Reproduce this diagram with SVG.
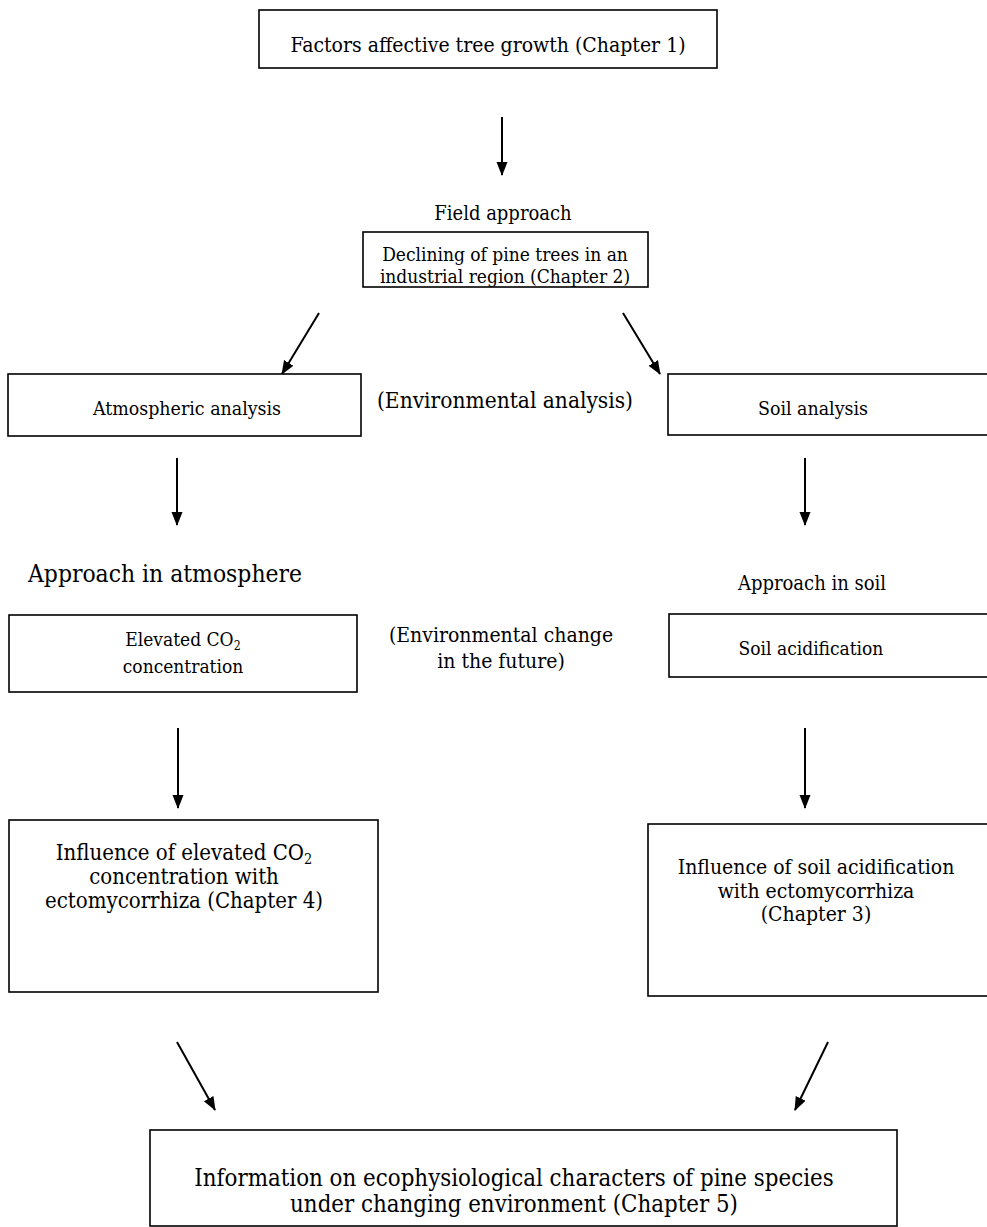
<svg xmlns="http://www.w3.org/2000/svg" width="987" height="1227" viewBox="0 0 987 1227">
<style>
.box{fill:#fff;stroke:#000;stroke-width:1.6}
.t{font-family:"DejaVu Serif Condensed","DejaVu Serif",serif;font-stretch:condensed;fill:#000;text-anchor:middle}
.sub{font-size:0.65em}
.c{stroke:#000;stroke-width:2;fill:none;marker-end:url(#ah)}
</style>
<defs>
<marker id="ah" markerUnits="userSpaceOnUse" markerWidth="14" markerHeight="14" viewBox="0 0 14 14" refX="13" refY="7" orient="auto">
<path d="M0,1.5 L14,7 L0,12.5 Z" fill="#000"/>
</marker>
</defs>
<rect width="987" height="1227" fill="#fff"/>
<g id="connectors">
<line class="c" x1="502" y1="117" x2="502" y2="175"/>
<line class="c" x1="319" y1="313" x2="282" y2="374"/>
<line class="c" x1="623" y1="313" x2="660" y2="374"/>
<line class="c" x1="177" y1="458" x2="177" y2="525"/>
<line class="c" x1="805" y1="458" x2="805" y2="525"/>
<line class="c" x1="178" y1="728" x2="178" y2="808"/>
<line class="c" x1="805" y1="728" x2="805" y2="808"/>
<line class="c" x1="177" y1="1042" x2="215" y2="1110"/>
<line class="c" x1="828" y1="1042" x2="795" y2="1110"/>
</g>
<g id="n1">
<rect class="box" x="259" y="10" width="458" height="58"/>
<text class="t" x="488" y="52" style="font-size:21px">Factors affective tree growth (Chapter 1)</text>
</g>
<g id="lbl-field">
<text class="t" x="503" y="220" style="font-size:20px">Field approach</text>
</g>
<g id="n2">
<rect class="box" x="363" y="232" width="285" height="55"/>
<text class="t" x="505" y="261" style="font-size:19px">Declining of pine trees in an</text>
<text class="t" x="505" y="283" style="font-size:19px">industrial region (Chapter 2)</text>
</g>
<g id="n3">
<rect class="box" x="8" y="374" width="353" height="62"/>
<text class="t" x="187" y="415" style="font-size:19.4px">Atmospheric analysis</text>
</g>
<g id="lbl-env">
<text class="t" x="505" y="408" style="font-size:22.5px">(Environmental analysis)</text>
</g>
<g id="n4">
<rect class="box" x="668" y="374" width="330" height="61"/>
<text class="t" x="813" y="415" style="font-size:19.4px">Soil analysis</text>
</g>
<g id="lbl-atm">
<text class="t" x="165" y="582" style="font-size:24.4px">Approach in atmosphere</text>
</g>
<g id="lbl-soil">
<text class="t" x="812" y="590" style="font-size:20px">Approach in soil</text>
</g>
<g id="n5">
<rect class="box" x="9" y="615" width="348" height="77"/>
<text class="t" x="183" y="646" style="font-size:19px">Elevated CO<tspan class="sub" dy="4">2</tspan></text>
<text class="t" x="183" y="673" style="font-size:19px">concentration</text>
</g>
<g id="lbl-change">
<text class="t" x="501" y="642" style="font-size:21px">(Environmental change</text>
<text class="t" x="501" y="668" style="font-size:21px">in the future)</text>
</g>
<g id="n6">
<rect class="box" x="669" y="614" width="330" height="63"/>
<text class="t" x="811" y="655" style="font-size:19px">Soil acidification</text>
</g>
<g id="n7">
<rect class="box" x="9" y="820" width="369" height="172"/>
<text class="t" x="184" y="860" style="font-size:22px">Influence of elevated CO<tspan class="sub" dy="4">2</tspan></text>
<text class="t" x="184" y="884" style="font-size:22px">concentration with</text>
<text class="t" x="184" y="908" style="font-size:22px">ectomycorrhiza (Chapter 4)</text>
</g>
<g id="n8">
<rect class="box" x="648" y="824" width="345" height="172"/>
<text class="t" x="816" y="874" style="font-size:21px">Influence of soil acidification</text>
<text class="t" x="816" y="898" style="font-size:21px">with ectomycorrhiza</text>
<text class="t" x="816" y="921" style="font-size:21px">(Chapter 3)</text>
</g>
<g id="n9">
<rect class="box" x="150" y="1130" width="747" height="96"/>
<text class="t" x="514" y="1186" style="font-size:23.8px">Information on ecophysiological characters of pine species</text>
<text class="t" x="514" y="1212" style="font-size:23.8px">under changing environment (Chapter 5)</text>
</g>
</svg>
